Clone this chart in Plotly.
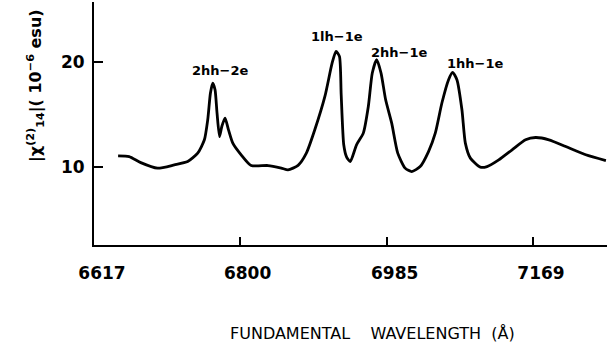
import plotly.graph_objects as go

# Fundamental wavelength (Angstrom) and |chi(2)_14| (1e-6 esu)
wavelength = [6647.3, 6661.2, 6675.8, 6696.9, 6718.0, 6734.8, 6747.4, 6755.8, 6760.0, 6763.4,
              6766.3, 6769.2, 6771.7, 6774.8, 6777.7, 6781.8, 6786.1, 6791.5, 6802.0, 6814.6,
              6835.7, 6852.5, 6860.9, 6873.6, 6884.0, 6894.6, 6907.3, 6916.5, 6921.3, 6925.6,
              6927.8, 6931.0, 6934.5, 6939.2, 6947.1, 6955.6, 6961.9, 6966.9, 6972.4, 6977.9,
              6983.7, 6991.3, 6998.9, 7008.2, 7016.5, 7027.1, 7037.6, 7046.1, 7054.4, 7062.8,
              7067.9, 7073.3, 7079.6, 7083.9, 7090.2, 7102.8, 7111.2, 7125.9, 7142.7, 7159.6,
              7172.2, 7189.0, 7210.1, 7235.3, 7260.6]
chi = [11.03, 10.96, 10.38, 9.85, 10.16, 10.48, 11.29, 12.57, 14.49, 17.06,
       18.02, 17.38, 15.13, 12.88, 13.85, 14.65, 13.53, 12.25, 11.13, 10.10,
       10.10, 9.85, 9.68, 10.12, 11.29, 13.53, 16.73, 19.97, 21.06, 20.58,
       16.89, 12.09, 10.93, 10.48, 12.09, 13.21, 15.77, 18.98, 20.26, 18.98,
       16.41, 14.17, 11.29, 9.85, 9.52, 10.00, 11.44, 13.21, 16.10, 18.34,
       19.04, 18.34, 15.45, 12.25, 10.81, 9.94, 10.00, 10.64, 11.61, 12.57,
       12.79, 12.57, 11.92, 11.13, 10.58]

x_tickvals = [6617, 6800, 6985, 7169]
x_ticktext = ["6617", "6800", "6985", "7169"]
y_tickvals = [10, 20]
y_ticktext = ["10", "20"]

peak_labels = ["2hh−2e", "1lh−1e", "2hh−1e", "1hh−1e"]
peak_label_x = [6774.8, 6922.8, 7000.4, 7095.6]
peak_label_y = [19.23, 22.5, 21.0, 19.94]

FONT = "DejaVu Sans"

fig = go.Figure()
fig.add_trace(go.Scatter(
    x=wavelength, y=chi, mode="lines",
    line=dict(color="black", width=2.8, shape="spline", smoothing=0.6),
    hoverinfo="skip", showlegend=False,
))

for txt, lx, ly in zip(peak_labels, peak_label_x, peak_label_y):
    fig.add_annotation(x=lx, y=ly, xref="x", yref="y", text=txt, showarrow=False,
                       xanchor="center", yanchor="middle",
                       font=dict(family=FONT, size=13, color="black", weight="bold"))

W, H = 613, 356
ml, mr, mt, mb = 94, 6, 2, 111
pw, ph = W - ml - mr, H - mt - mb

def px_to_paper(px, py):
    return (px - ml) / pw, 1 - (py - mt) / ph

yx, yy = px_to_paper(35, 86)
fig.add_annotation(
    x=yx, y=yy, xref="paper", yref="paper", xanchor="center", yanchor="middle",
    text="|χ<sup>(2)</sup><sub>14</sub>|( 10<sup>−6</sup> esu)",
    showarrow=False, textangle=-90,
    font=dict(family=FONT, size=16, color="black", weight="bold"),
)
tx, ty = px_to_paper(372, 333)
fig.add_annotation(
    x=tx, y=ty, xref="paper", yref="paper", xanchor="center", yanchor="middle",
    text="FUNDAMENTAL&nbsp;&nbsp;&nbsp;&nbsp;WAVELENGTH&nbsp;&nbsp;(Å)",
    showarrow=False, font=dict(family=FONT, size=16, color="black"),
)

fig.update_layout(
    width=W, height=H,
    margin=dict(l=ml, r=mr, t=mt, b=mb, pad=0, autoexpand=False),
    paper_bgcolor="white", plot_bgcolor="white",
    font=dict(family=FONT, color="black"),
)
fig.update_xaxes(
    range=[6617, 7262], showgrid=False, zeroline=False, automargin=False,
    showline=True, linecolor="black", linewidth=2,
    tickmode="array", tickvals=x_tickvals, ticktext=x_ticktext,
    ticks="inside", ticklen=8, tickwidth=2, tickcolor="black",
    tickfont=dict(family=FONT, size=17, color="black", weight="bold"),
    ticklabelstandoff=12, ticklabelshift=8,
)
fig.update_yaxes(
    range=[2.47, 25.8], showgrid=False, zeroline=False, automargin=False,
    showline=True, linecolor="black", linewidth=2,
    tickmode="array", tickvals=y_tickvals, ticktext=y_ticktext,
    ticks="inside", ticklen=9, tickwidth=2, tickcolor="black",
    tickfont=dict(family=FONT, size=17, color="black", weight="bold"),
    ticklabelstandoff=4,
)

fig.write_html("out.html", config={"displayModeBar": False},
               post_script="document.body.style.margin='0';document.body.style.overflow='hidden';")
